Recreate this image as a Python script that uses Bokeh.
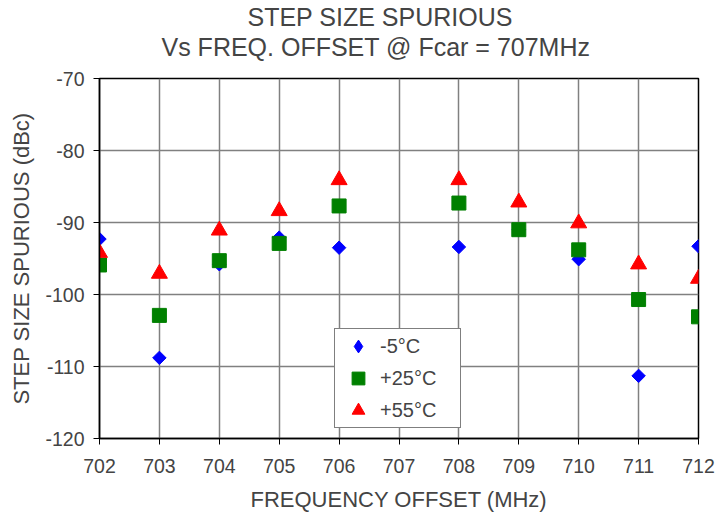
import numpy as np
from bokeh.plotting import figure
from bokeh.models import Legend, LegendItem, FixedTicker, Range1d, Title
from bokeh.embed import file_html
from bokeh.resources import INLINE

freq = [702, 703, 704, 705, 706, 707, 708, 709, 710, 711, 712]
minus5 = [-92.3, -108.8, -95.8, -92.1, -93.5, np.nan, -93.4, -91.0, -95.1, -111.3, -93.3]
plus25 = [-95.9, -102.9, -95.3, -92.9, -87.7, np.nan, -87.3, -91.0, -93.8, -100.7, -103.1]
plus55 = [-94.2, -97.1, -91.1, -88.4, -84.1, np.nan, -84.1, -87.2, -90.1, -95.8, -97.8]
labels = ["-5°C", "+25°C", "+55°C"]
yticks = [-120, -110, -100, -90, -80, -70]
ytick_labels = ["-120", "-110", "-100", "-90", "-80", "-70"]
title1 = "STEP SIZE SPURIOUS"
title2 = "Vs FREQ. OFFSET @ Fcar = 707MHz"

FONT = "Liberation Sans"
W, H = 716, 514
BL, BR, BT, BB = 99, 18, 78, 76

p = figure(width=W, height=H, output_backend="svg", toolbar_location=None,
           x_range=Range1d(702, 712), y_range=Range1d(-120, -70),
           min_border_left=BL, min_border_right=BR, min_border_top=BT, min_border_bottom=BB)

p.title.text = title1
p.title.align = "left"
p.title.offset = 148
p.title.text_font = FONT
p.title.text_font_size = "25px"
p.title.text_font_style = "normal"
p.title.standoff = 0
p.title.vertical_align = "bottom"
# blank spacer between the second title line and the plot frame (added first = nearest)
spacer = Title(text=" ", text_font=FONT, text_font_size="14px", standoff=0)
p.add_layout(spacer, "above")
t2 = Title(text=title2, align="left", offset=62, text_font=FONT, text_font_size="25px",
           text_font_style="normal", standoff=0, vertical_align="bottom")
p.add_layout(t2, "above")

p.outline_line_color = "black"
p.outline_line_width = 1.5
p.xgrid.grid_line_color = "#808080"
p.ygrid.grid_line_color = "#808080"
p.xgrid.grid_line_width = 1.5
p.ygrid.grid_line_width = 1.5
p.xaxis.ticker = FixedTicker(ticks=freq)
p.yaxis.ticker = FixedTicker(ticks=yticks)
p.yaxis.major_label_overrides = dict(zip(yticks, ytick_labels))

for ax in (p.xaxis, p.yaxis):
    ax.axis_line_color = "black"
    ax.axis_line_width = 1.5
    ax.major_tick_line_color = "black"
    ax.major_tick_out = 6
    ax.major_tick_in = 0
    ax.minor_tick_line_color = None
    ax.major_label_text_font = FONT
    ax.major_label_text_font_size = "19.5px"
    ax.axis_label_text_font = FONT
    ax.axis_label_text_font_size = "22px"
    ax.axis_label_text_font_style = "normal"

p.xaxis.axis_label = "FREQUENCY OFFSET (MHz)"
p.yaxis.axis_label = "STEP SIZE SPURIOUS (dBc)"
p.xaxis.major_label_standoff = 14
p.xaxis.axis_label_standoff = 11
p.yaxis.major_label_standoff = 9
p.yaxis.axis_label_standoff = 8

# hidden diamond under the rotated squares: provides the legend swatch
r1_key = p.scatter(freq, minus5, marker="diamond", size=8,
                   fill_color="#0000FF", line_color="#0000FF")
r1 = p.scatter(freq, minus5, marker="square", angle=np.pi / 4, size=9.5,
               fill_color="#0000FF", line_color="#0000FF")
r2 = p.scatter(freq, plus25, marker="square", size=14,
               fill_color="#008000", line_color="#008000")
r3 = p.scatter(freq, plus55, marker="triangle", size=16,
               fill_color="#FF0000", line_color="#FF0000")

legend = Legend(items=[LegendItem(label=labels[0], renderers=[r1_key]),
                       LegendItem(label=labels[1], renderers=[r2]),
                       LegendItem(label=labels[2], renderers=[r3])],
                location=(235, 10), label_text_font=FONT, label_text_font_size="20px",
                border_line_color="black", border_line_width=1.5,
                background_fill_color="white", background_fill_alpha=1,
                glyph_width=44, glyph_height=32, label_height=32, spacing=0,
                padding=1, margin=0, label_standoff=0, label_width=79)
p.add_layout(legend, "center")

open("out.html", "w").write(file_html(p, INLINE))
